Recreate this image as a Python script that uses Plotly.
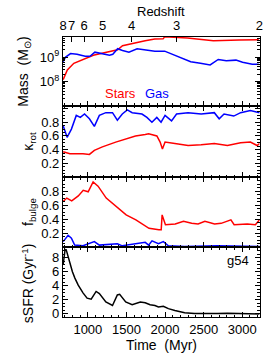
import plotly.graph_objects as go

# ---------------- data ----------------
# Stellar mass (units of 1e9 Msun)
t_stars = [680, 734, 818, 945, 1071, 1197, 1323, 1386, 1449, 1575, 1742, 1868, 1953, 1975, 1995, 2289, 2626, 2793, 2962, 3214]
m_stars = [0.12, 0.30, 0.56, 0.81, 1.2, 1.48, 1.78, 2.04, 3.0, 3.7, 4.8, 5.6, 5.6, 5.7, 6.9, 6.2, 4.8, 4.8, 5.1, 5.2]

# Gas mass (units of 1e9 Msun)
t_gas = [680, 712, 776, 860, 965, 1028, 1091, 1175, 1280, 1323, 1386, 1449, 1532, 1638, 1742, 1868, 1995, 2079, 2206, 2332, 2458, 2584, 2689, 2793, 2919, 3004, 3130, 3214]
m_gas = [0.65, 1.02, 1.41, 1.32, 1.10, 1.10, 1.62, 1.41, 1.20, 1.32, 2.24, 1.91, 1.62, 2.24, 2.04, 1.78, 1.78, 1.41, 0.98, 0.65, 0.56, 0.48, 0.81, 0.71, 0.76, 0.62, 0.52, 0.51]

# kappa_rot
t_krot_gas = [680, 731, 787, 850, 902, 957, 1020, 1084, 1149, 1233, 1319, 1382, 1446, 1511, 1574, 1701, 1765, 1830, 1893, 1948, 2000, 2084, 2149, 2298, 2468, 2638, 2701, 2764, 2890, 2979, 3105, 3224]
krot_gas = [0.75, 0.58, 0.70, 0.90, 0.87, 0.92, 0.85, 0.74, 0.90, 0.94, 0.94, 0.83, 0.92, 0.98, 0.94, 0.92, 0.87, 0.80, 0.87, 0.80, 0.90, 0.82, 0.92, 0.94, 0.92, 0.94, 0.85, 0.92, 0.89, 0.94, 0.97, 0.94]
t_krot_stars = [680, 767, 937, 1020, 1084, 1188, 1361, 1491, 1617, 1743, 1787, 1894, 1936, 1966, 2000, 2127, 2298, 2468, 2638, 2808, 2979, 3105, 3193, 3224]
krot_stars = [0.37, 0.34, 0.34, 0.33, 0.39, 0.44, 0.51, 0.56, 0.60, 0.62, 0.63, 0.60, 0.51, 0.41, 0.51, 0.49, 0.46, 0.47, 0.49, 0.46, 0.50, 0.51, 0.46, 0.49]

# f_bulge
t_fb_stars = [680, 727, 791, 876, 940, 1004, 1068, 1132, 1238, 1366, 1496, 1622, 1792, 1920, 1950, 1962, 2005, 2132, 2239, 2345, 2428, 2516, 2642, 2727, 2853, 2895, 3065, 3170, 3224]
fb_stars = [0.65, 0.70, 0.66, 0.73, 0.81, 0.79, 0.93, 0.87, 0.70, 0.58, 0.46, 0.39, 0.27, 0.25, 0.25, 0.46, 0.32, 0.33, 0.37, 0.34, 0.33, 0.37, 0.33, 0.34, 0.39, 0.32, 0.33, 0.32, 0.39]
t_fb_gas = [680, 744, 787, 829, 937, 1084, 1149, 1382, 1446, 1743, 1787, 1831, 1914, 1978, 2043, 2254, 2680, 3224]
fb_gas = [0.08, 0.17, 0.13, 0.03, 0.02, 0.08, 0.03, 0.05, 0.02, 0.07, 0.03, 0.09, 0.05, 0.08, 0.02, 0.01, 0.02, 0.01]

# sSFR (Gyr^-1)
t_ssfr = [680, 703, 718, 740, 767, 800, 832, 875, 937, 990, 1043, 1107, 1149, 1233, 1319, 1382, 1412, 1490, 1574, 1680, 1743, 1806, 1869, 1914, 1978, 2043, 2127, 2254, 2381, 2550, 2680, 2808, 2979, 3224]
ssfr = [7.0, 9.0, 9.2, 8.3, 7.2, 6.0, 5.1, 4.1, 3.0, 2.25, 2.1, 3.2, 2.9, 1.7, 1.2, 2.7, 2.8, 1.7, 1.3, 1.7, 1.6, 1.3, 1.2, 1.0, 1.1, 0.75, 0.5, 0.17, 0.05, 0.0, 0.05, 0.1, 0.1, 0.0]

# redshift axis
z_labels = ["8", "7", "6", "5", "4", "3", "2"]
z_times = [678, 790, 950, 1192, 1568, 2150, 3222]

time_ticks = [1000, 1500, 2000, 2500, 3000]

# ---------------- figure ----------------
RED = "#ff0000"
BLUE = "#0000ff"
FONT = "Liberation Sans, Arial, Helvetica, sans-serif"
W, H = 270, 360

def px_y(y):
    return 1 - y / H

def px_x(x):
    return x / W

xdom = [px_x(60.5), px_x(262.5)]
doms = [[px_y(107), px_y(37)], [px_y(179), px_y(107)], [px_y(250), px_y(179)], [px_y(321), px_y(250)]]
xrange_ = [677, 3226]

fig = go.Figure()
lw = 1.5
fig.add_trace(go.Scatter(x=t_stars, y=[v * 1e9 for v in m_stars], mode="lines", line=dict(color=RED, width=lw), xaxis="x", yaxis="y"))
fig.add_trace(go.Scatter(x=t_gas, y=[v * 1e9 for v in m_gas], mode="lines", line=dict(color=BLUE, width=lw), xaxis="x", yaxis="y"))
# transparent copy so that the redshift (top) axis is drawn
fig.add_trace(go.Scatter(x=t_stars, y=[v * 1e9 for v in m_stars], mode="lines", line=dict(color="rgba(0,0,0,0)", width=0),
                         xaxis="x5", yaxis="y", hoverinfo="skip"))
fig.add_trace(go.Scatter(x=t_krot_gas, y=krot_gas, mode="lines", line=dict(color=BLUE, width=lw), xaxis="x2", yaxis="y2"))
fig.add_trace(go.Scatter(x=t_krot_stars, y=krot_stars, mode="lines", line=dict(color=RED, width=lw), xaxis="x2", yaxis="y2"))
fig.add_trace(go.Scatter(x=t_fb_stars, y=fb_stars, mode="lines", line=dict(color=RED, width=lw), xaxis="x3", yaxis="y3"))
fig.add_trace(go.Scatter(x=t_fb_gas, y=fb_gas, mode="lines", line=dict(color=BLUE, width=lw), xaxis="x3", yaxis="y3"))
fig.add_trace(go.Scatter(x=t_ssfr, y=ssfr, mode="lines", line=dict(color="black", width=lw), xaxis="x4", yaxis="y4"))

tickfont = dict(family=FONT, size=13, color="black")

def xaxis(anchor, labels, mirror):
    return dict(domain=xdom, anchor=anchor, range=xrange_, showline=True, linecolor="black", linewidth=1,
                mirror=mirror, ticks="inside", ticklen=5, tickcolor="black", tickvals=time_ticks,
                showticklabels=labels, tickfont=tickfont, showgrid=False, zeroline=False, tickangle=0,
                ticklabeloverflow="allow",
                minor=dict(ticks="inside", ticklen=2.5, dtick=100, tickcolor="black", showgrid=False))

def yaxis(anchor, dom, rng, tv, tt, minor_dtick):
    return dict(domain=dom, anchor=anchor, range=rng, showline=True, linecolor="black", linewidth=1,
                mirror="ticks", ticks="inside", ticklen=5, tickcolor="black", tickvals=tv, ticktext=tt,
                tickfont=tickfont, showgrid=False, zeroline=False,
                minor=dict(ticks="inside", ticklen=2.5, dtick=minor_dtick, tickcolor="black", showgrid=False))

minor_log = [m * 10 ** e for e in (7, 8, 9) for m in range(2, 10) if m * 10 ** e < 7e9]

layout = dict(
    width=W, height=H, margin=dict(l=0, r=0, t=0, b=0),
    paper_bgcolor="white", plot_bgcolor="white", showlegend=False,
    font=dict(family=FONT, size=13, color="black"),
    xaxis=xaxis("y", False, False),
    xaxis2=xaxis("y2", False, "ticks"),
    xaxis3=xaxis("y3", False, "ticks"),
    xaxis4=xaxis("y4", True, "ticks"),
    xaxis5=dict(overlaying="x", anchor="y", side="top", range=xrange_, showline=True, linecolor="black",
                linewidth=1, ticks="inside", ticklen=5, tickcolor="black", tickvals=z_times, tickangle=0,
                ticklabeloverflow="allow",
                ticktext=z_labels, tickfont=tickfont, showgrid=False, zeroline=False),
    yaxis=dict(domain=doms[0], anchor="x", type="log", range=[7.0, 9.85], showline=True, linecolor="black",
               linewidth=1, mirror="ticks", ticks="inside", ticklen=5, tickcolor="black",
               tickvals=[1e8, 1e9], ticktext=["10<sup>8</sup>", "10<sup>9</sup>"], tickfont=tickfont,
               showgrid=False, zeroline=False,
               minor=dict(ticks="inside", ticklen=2.5, tickvals=minor_log, tickcolor="black", showgrid=False)),
    yaxis2=yaxis("x2", doms[1], [0, 1.04], [0, 0.2, 0.4, 0.6, 0.8, 1.0], ["", "0.2", "0.4", "0.6", "0.8", ""], 0.05),
    yaxis3=yaxis("x3", doms[2], [0, 1.0], [0, 0.2, 0.4, 0.6, 0.8, 1.0], ["", "0.2", "0.4", "0.6", "0.8", ""], 0.05),
    yaxis4=yaxis("x4", doms[3], [-0.5, 9.5], [0, 2, 4, 6, 8], ["0", "2", "4", "6", "8"], 0.5),
)
fig.update_layout(**layout)

ann = [
    dict(text="Redshift", x=px_x(161.5), y=px_y(12), font=dict(size=13)),
    dict(text="Time\u00a0\u00a0(Myr)", x=px_x(161.5), y=px_y(349), font=dict(size=14)),
    dict(text="Stars", x=px_x(120), y=px_y(95), font=dict(size=13, color=RED)),
    dict(text="Gas", x=px_x(157.5), y=px_y(95), font=dict(size=13, color=BLUE)),
    dict(text="g54", x=px_x(240.5), y=px_y(263), font=dict(size=13)),
    dict(text="Mass\u00a0\u00a0(M<sub>\u2299</sub>)", x=px_x(21), y=px_y(72), textangle=-90, font=dict(size=14)),
    dict(text="\u03ba<sub>rot</sub>", x=px_x(26), y=px_y(143), textangle=-90, font=dict(size=14)),
    dict(text="f<sub>bulge</sub>", x=px_x(25), y=px_y(214), textangle=-90, font=dict(size=14)),
    dict(text="sSFR\u00a0(Gyr<sup>-1</sup>)", x=px_x(24), y=px_y(286), textangle=-90, font=dict(size=14)),
]
for a in ann:
    a.update(xref="paper", yref="paper", showarrow=False, xanchor="center", yanchor="middle")
fig.update_layout(annotations=ann)

fig.write_html("out.html", config={"displayModeBar": False},
               post_script="document.body.style.margin='0px';")
